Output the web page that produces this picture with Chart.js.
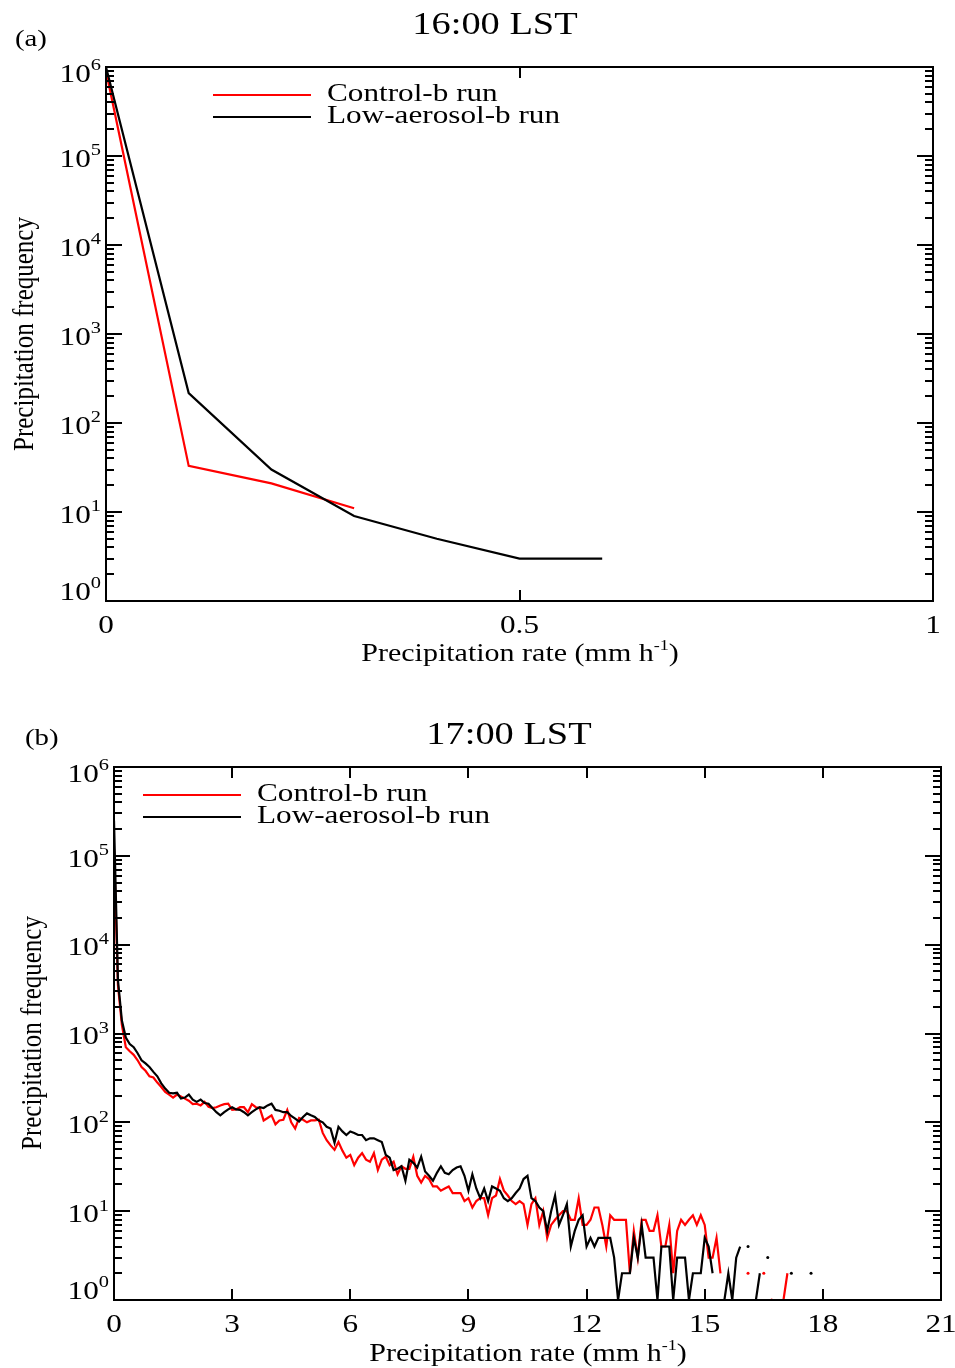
<!DOCTYPE html>
<html>
<head>
<meta charset="utf-8">
<script src="https://cdn.jsdelivr.net/npm/chart.js@4"></script>
<style>
  body { margin: 0; background: #fff; }
  .panel { position: absolute; left: 0px; }
</style>
</head>
<body>
<div class="panel" style="top:0px"><canvas id="chart-a" width="955" height="680"></canvas></div>
<div class="panel" style="top:680px"><canvas id="chart-b" width="955" height="688"></canvas></div>
<script>
// ***** data *****
// panel (a) 16:00 LST
const rateA = [0, 0.1, 0.2, 0.3, 0.4, 0.5, 0.6];
const controlA = [900000, 33, 21, 11, null, null, null];
const lowAerosolA = [1000000, 217, 30, 9, 5, 3, 3];

// panel (b) 17:00 LST, bins of 0.1 mm/h from 0 to 18
const rateB = [
  0, 0.1, 0.2, 0.3, 0.4, 0.5, 0.6, 0.7, 0.8, 0.9,
  1, 1.1, 1.2, 1.3, 1.4, 1.5, 1.6, 1.7, 1.8, 1.9,
  2, 2.1, 2.2, 2.3, 2.4, 2.5, 2.6, 2.7, 2.8, 2.9,
  3, 3.1, 3.2, 3.3, 3.4, 3.5, 3.6, 3.7, 3.8, 3.9,
  4, 4.1, 4.2, 4.3, 4.4, 4.5, 4.6, 4.7, 4.8, 4.9,
  5, 5.1, 5.2, 5.3, 5.4, 5.5, 5.6, 5.7, 5.8, 5.9,
  6, 6.1, 6.2, 6.3, 6.4, 6.5, 6.6, 6.7, 6.8, 6.9,
  7, 7.1, 7.2, 7.3, 7.4, 7.5, 7.6, 7.7, 7.8, 7.9,
  8, 8.1, 8.2, 8.3, 8.4, 8.5, 8.6, 8.7, 8.8, 8.9,
  9, 9.1, 9.2, 9.3, 9.4, 9.5, 9.6, 9.7, 9.8, 9.9,
  10, 10.1, 10.2, 10.3, 10.4, 10.5, 10.6, 10.7, 10.8, 10.9,
  11, 11.1, 11.2, 11.3, 11.4, 11.5, 11.6, 11.7, 11.8, 11.9,
  12, 12.1, 12.2, 12.3, 12.4, 12.5, 12.6, 12.7, 12.8, 12.9,
  13, 13.1, 13.2, 13.3, 13.4, 13.5, 13.6, 13.7, 13.8, 13.9,
  14, 14.1, 14.2, 14.3, 14.4, 14.5, 14.6, 14.7, 14.8, 14.9,
  15, 15.1, 15.2, 15.3, 15.4, 15.5, 15.6, 15.7, 15.8, 15.9,
  16, 16.1, 16.2, 16.3, 16.4, 16.5, 16.6, 16.7, 16.8, 16.9,
  17, 17.1, 17.2, 17.3, 17.4, 17.5, 17.6, 17.7, 17.8, 17.9,
  18,
];
const controlB = [
  120000, 3500, 1250, 700, 630, 575, 500, 420, 380, 330,
  320, 280, 250, 220, 205, 190, 205, 195, 185, 175,
  160, 162, 155, 170, 150, 145, 148, 155, 160, 162,
  138, 140, 148, 148, 130, 160, 148, 145, 105, 112,
  120, 95, 105, 107, 138, 100, 85, 112, 107, 100,
  105, 105, 107, 76, 63, 55, 49, 60, 48, 40,
  43, 33, 40, 45, 38, 36, 45, 29, 38, 41,
  33, 36, 26, 32, 30, 30, 41, 25, 21, 25,
  23, 19, 19, 17, 18, 19, 16, 16, 16, 13,
  14, 11, 13, 14, 14, 9, 14, 15, 23, 17,
  15, 13, 12, 13, 12, 7, 12, 14, 7, 10,
  5, 7, 8, 9, 10, 10, 8, 8, 14, 7,
  7, 8, 11, 11, 7, 4, 9, 8, 8, 8,
  8, 2, 6, 3, 8, 8, 6, 6, 9, 4,
  4, 7, 2, 6, 8, 7, 8, 9, 7, 9,
  7, 3, 3, 5, 2, null, 1, 1, null, null,
  null, 2, null, null, null, 2, null, 1, null, null,
  1, 2, null, null, null, null, null, null, null, null,
  null,
];
const lowAerosolB = [
  250000, 4000, 1400, 900, 760, 700, 600, 500, 460, 420,
  370, 330, 275, 240, 215, 212, 215, 185, 190, 205,
  180, 170, 180, 165, 162, 145, 130, 120, 130, 140,
  148, 140, 138, 130, 120, 130, 140, 148, 145, 155,
  162, 138, 135, 130, 130, 118, 110, 102, 115, 126,
  120, 115, 105, 100, 89, 85, 59, 89, 79, 72,
  79, 76, 72, 72, 63, 66, 66, 63, 60, 43,
  40, 29, 30, 32, 22, 38, 35, 31, 41, 28,
  25, 22, 27, 32, 27, 26, 29, 31, 32, 25,
  17, 26, 18, 14, 18, 13, 19, 18, 17, 14,
  13, 14, 16, 18, 23, 25, 14, 13, 11, 10,
  6, 10, 15, 7, 9, 12, 4, 6, 8, 9,
  4, 5, 4, 5, 5, 5, 5, 3, 1, 2,
  2, 2, 5, 3, 7, 3, 3, 3, 1, 4,
  4, 4, 1, 3, 3, 3, 1, 2, 2, 2,
  5, 4, 2, null, null, 1, 2, 1, 3, 4,
  null, 4, null, 1, 2, null, 3, null, null, null,
  null, null, 2, null, null, null, null, 2, null, null,
  null,
];

// axis ticks
const xTicksA = [0, 0.5, 1];
const xTicksB = [0, 3, 6, 9, 12, 15, 18, 21];
const decades = [0, 1, 2, 3, 4, 5, 6];

// ***** helpers *****
const SERIF = '"Liberation Serif", "Times New Roman", serif';
const HS = 1.2; // the reference text is wide

function text(ctx, str, x, y, size, align) {
  ctx.save();
  ctx.font = size + "px " + SERIF;
  ctx.textBaseline = "middle";
  ctx.textAlign = align || "left";
  ctx.translate(x, y);
  ctx.scale(HS, 1);
  ctx.fillText(str, 0, 0);
  ctx.restore();
}

function width(ctx, str, size) {
  ctx.font = size + "px " + SERIF;
  return ctx.measureText(str).width * HS;
}

// only draw a dot where a point has no neighbours
const lonelyDot = (c) => {
  const d = c.dataset.data;
  const i = c.dataIndex;
  if (!d[i] || d[i].y == null) return 0;
  const prev = i > 0 ? d[i - 1].y : null;
  const next = i < d.length - 1 ? d[i + 1].y : null;
  return prev == null && next == null ? 1.5 : 0;
};

const toPoints = (xs, ys) => xs.map((x, i) => ({ x: x, y: ys[i] }));

// frame, inward ticks, labels, legend and titles
const decorations = {
  id: "decorations",
  afterDraw(chart, args, o) {
    const ctx = chart.ctx;
    const a = chart.chartArea;
    const xs = chart.scales.x;
    const ys = chart.scales.y;
    ctx.save();
    ctx.strokeStyle = "#000";
    ctx.fillStyle = "#000";
    ctx.lineWidth = 2;
    ctx.strokeRect(a.left, a.top, a.right - a.left, a.bottom - a.top);

    // log ticks on left and right
    ctx.beginPath();
    decades.forEach((d) => {
      for (let k = 1; k <= 9; k++) {
        if (d === 6 && k > 1) break;
        const y = Math.round(ys.getPixelForValue(k * Math.pow(10, d)));
        const len = k === 1 ? 16 : 8;
        ctx.moveTo(a.left, y);
        ctx.lineTo(a.left + len, y);
        ctx.moveTo(a.right, y);
        ctx.lineTo(a.right - len, y);
      }
    });
    o.xTicks.forEach((v) => {
      const x = Math.round(xs.getPixelForValue(v));
      ctx.moveTo(x, a.bottom);
      ctx.lineTo(x, a.bottom - 11);
      ctx.moveTo(x, a.top);
      ctx.lineTo(x, a.top + 11);
    });
    ctx.stroke();

    // y labels 10^n
    decades.forEach((d) => {
      let y = ys.getPixelForValue(Math.pow(10, d)) + 4;
      y = Math.min(Math.max(y, a.top + 8), a.bottom - 8);
      const wExp = width(ctx, String(d), 17);
      const wBase = width(ctx, "10", 26);
      const right = a.left - 5;
      text(ctx, "10", right - wExp - wBase, y, 26, "left");
      text(ctx, String(d), right - wExp, y - 9, 17, "left");
    });

    // x labels
    o.xTicks.forEach((v) => {
      text(ctx, String(v), xs.getPixelForValue(v), a.bottom + 25, 26, "center");
    });

    // x title with superscript
    const t1 = "Precipitation rate (mm h";
    const w1 = width(ctx, t1, 25);
    const w2 = width(ctx, "-1", 15);
    const w3 = width(ctx, ")", 25);
    let x0 = o.xTitle[0] - (w1 + w2 + w3) / 2;
    text(ctx, t1, x0, o.xTitle[1], 25, "left");
    text(ctx, "-1", x0 + w1, o.xTitle[1] - 8, 15, "left");
    text(ctx, ")", x0 + w1 + w2, o.xTitle[1], 25, "left");

    // y title
    ctx.save();
    ctx.translate(o.yTitle[0], o.yTitle[1]);
    ctx.rotate(-Math.PI / 2);
    ctx.scale(1, HS);
    ctx.font = "25px " + SERIF;
    ctx.textAlign = "center";
    ctx.textBaseline = "middle";
    ctx.fillText("Precipitation frequency", 0, 0);
    ctx.restore();

    // title and panel label
    text(ctx, o.title[0], o.title[1], o.title[2], 32, "center");
    text(ctx, o.label[0], o.label[1], o.label[2], 24, "left");

    // legend
    chart.data.datasets.slice().reverse().forEach((ds, i) => {
      const y = o.legend[1] + i * 22;
      ctx.strokeStyle = ds.borderColor;
      ctx.beginPath();
      ctx.moveTo(o.legend[0], y);
      ctx.lineTo(o.legend[0] + 98, y);
      ctx.stroke();
      text(ctx, ds.label, o.legend[0] + 114, y - 1, 26, "left");
    });
    ctx.restore();
  },
};

function makeConfig(rate, control, lowAerosol, xMax, padding, deco) {
  return {
    type: "line",
    data: {
      datasets: [
        {
          label: "Low-aerosol-b run",
          data: toPoints(rate, lowAerosol),
          borderColor: "#000000",
          borderWidth: 2.2,
          pointRadius: lonelyDot,
          pointBackgroundColor: "#000000",
          pointBorderWidth: 0,
          tension: 0,
          spanGaps: false,
        },
        {
          label: "Control-b run",
          data: toPoints(rate, control),
          borderColor: "#ff0000",
          borderWidth: 2.2,
          pointRadius: lonelyDot,
          pointBackgroundColor: "#ff0000",
          pointBorderWidth: 0,
          tension: 0,
          spanGaps: false,
        },
      ],
    },
    options: {
      responsive: false,
      maintainAspectRatio: false,
      animation: false,
      layout: { padding: padding },
      scales: {
        x: { type: "linear", min: 0, max: xMax, display: false },
        y: { type: "logarithmic", min: 1, max: 1000000, display: false },
      },
      plugins: {
        legend: { display: false },
        tooltip: { enabled: false },
        decorations: deco,
      },
    },
    plugins: [decorations],
  };
}

const chartA = new Chart(
  document.getElementById("chart-a"),
  makeConfig(rateA, controlA, lowAerosolA, 1,
    { left: 106, top: 67, right: 22, bottom: 79 },
    {
      xTicks: xTicksA,
      xTitle: [520, 654],
      yTitle: [25, 334],
      title: ["16:00 LST", 495, 26],
      label: ["(a)", 15, 40],
      legend: [213, 95],
    })
);

const chartB = new Chart(
  document.getElementById("chart-b"),
  makeConfig(rateB, controlB, lowAerosolB, 21,
    { left: 114, top: 87, right: 14, bottom: 68 },
    {
      xTicks: xTicksB,
      xTitle: [528, 674],
      yTitle: [33, 353],
      title: ["17:00 LST", 509, 56],
      label: ["(b)", 25, 59],
      legend: [143, 115],
    })
);
</script>
</body>
</html>
